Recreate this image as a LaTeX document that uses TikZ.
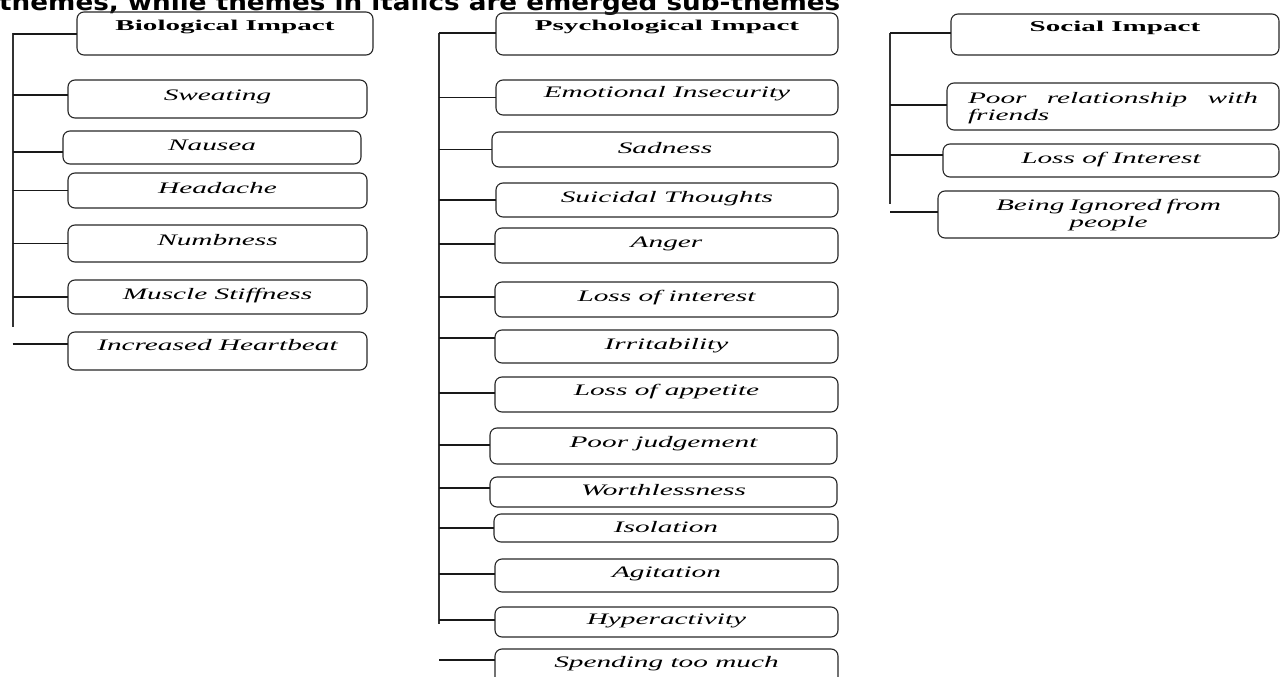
\documentclass[tikz,border=0pt]{standalone}
\usepackage{fontspec}
\newfontfamily\subf[FakeStretch=1.83]{Liberation Serif}
\newfontfamily\headf[FakeStretch=1.94]{Liberation Serif}
\newfontfamily\titlef[FakeStretch=1.14]{DejaVu Sans}
\tikzset{
  box/.style={draw=black!85, line width=1.1pt, rounded corners=7pt, inner sep=0pt, outer sep=0pt, anchor=north west},
  headtxt/.style={font=\headf\bfseries\fontsize{15}{17}\selectfont},
  subtxt/.style={font=\subf\itshape\fontsize{16}{17}\selectfont},
  conn/.style={draw=black!90, line width=1.45pt},
  trunk/.style={draw=black!80, line width=1.8pt}
}
\newcommand\bx[8]{%
  \pgfmathsetmacro\bxw{#4-#2}\pgfmathsetmacro\bxh{#6-#3}\pgfmathsetmacro\bxd{#5-#6}%
  \node[box,#7,minimum width=\bxw pt,text height=\bxh pt,text depth=\bxd pt] (#1) at (#2,#3) {#8};}
\newcommand\link[3][0]{%
  \path ([yshift=#1pt]#3.west) coordinate (#3-j);
  \draw[conn] (#2 |- #3-j) -- (#3-j);}
\begin{document}
\begin{tikzpicture}[x=1pt,y=-1pt]
\useasboundingbox (0,0) rectangle (1280,677);
\clip (0,0) rectangle (1280,677);
\node[anchor=base west, inner sep=0pt, font=\titlef\bfseries\fontsize{23}{26}\selectfont] (title) at (-1,10.5) {themes, while themes in italics are emerged sub-themes};

% Biological
\bx{bio}{77}{12}{373}{55}{31}{headtxt}{Biological Impact}
\bx{sweat}{68}{80}{367}{118}{100}{subtxt}{Sweating}
\bx{naus}{63}{131}{361}{164}{150}{subtxt}{Nausea}
\bx{headache}{68}{173}{367}{208}{193}{subtxt}{Headache}
\bx{numb}{68}{225}{367}{262}{245}{subtxt}{Numbness}
\bx{musc}{68}{280}{367}{314}{299}{subtxt}{Muscle Stiffness}
\bx{heart}{68}{332}{367}{370}{350}{subtxt}{Increased Heartbeat}
\coordinate (bioT) at (12.7,33);
\coordinate (bioB) at (12.7,327);
\draw[trunk] (bioT) -- (bioB);
\link[-0.5]{bioT}{bio}
\link[4]{bioT}{sweat}
\link[-4.5]{bioT}{naus}
\link{bioT}{headache}
\link{bioT}{numb}
\link{bioT}{musc}
\link[7]{bioT}{heart}

% Psychological
\bx{psy}{496}{13}{838}{55}{31}{headtxt}{Psychological Impact}
\bx{emo}{496}{80}{838}{115}{98}{subtxt}{Emotional Insecurity}
\bx{sad}{492}{132}{838}{167}{153}{subtxt}{Sadness}
\bx{sui}{496}{183}{838}{217}{202}{subtxt}{Suicidal Thoughts}
\bx{ang}{495}{228}{838}{263}{247}{subtxt}{Anger}
\bx{lint}{495}{282}{838}{317}{301}{subtxt}{Loss of interest}
\bx{irr}{495}{330}{838}{363}{349}{subtxt}{Irritability}
\bx{app}{495}{377}{838}{412}{395}{subtxt}{Loss of appetite}
\bx{judg}{490}{428}{837}{464}{447}{subtxt}{Poor judgement}
\bx{worth}{490}{477}{837}{507}{495}{subtxt}{Worthlessness}
\bx{iso}{494}{514}{838}{542}{532}{subtxt}{Isolation}
\bx{agit}{495}{559}{838}{592}{577}{subtxt}{Agitation}
\bx{hyp}{495}{607}{838}{637}{624}{subtxt}{Hyperactivity}
\bx{spend}{495}{649}{838}{692}{667}{subtxt}{Spending too much}
\coordinate (psyT) at (439,33);
\coordinate (psyB) at (439,624);
\draw[trunk] (psyT) -- (psyB);
\link[1]{psyT}{psy}
\link{psyT}{emo}
\link{psyT}{sad}
\link{psyT}{sui}
\link[1.5]{psyT}{ang}
\link[2.5]{psyT}{lint}
\link[8.5]{psyT}{irr}
\link[1.5]{psyT}{app}
\link[1]{psyT}{judg}
\link[4]{psyT}{worth}
\link{psyT}{iso}
\link[1.5]{psyT}{agit}
\link[2]{psyT}{hyp}
\link[10.5]{psyT}{spend}

% Social
\bx{soc}{951}{14}{1279}{55}{32}{headtxt}{Social Impact}
\bx{rel}{947}{83}{1279}{130}{103}{subtxt,text width=290pt,align=justify}{Poor relationship with friends}
\bx{lsi}{943}{144}{1279}{177}{163}{subtxt}{Loss of Interest}
\bx{ign}{938}{191}{1279}{238}{210}{subtxt,text width=300pt,align=center}{Being Ignored from\\people}
\coordinate (socT) at (890,33);
\coordinate (socB) at (890,204);
\draw[trunk] (socT) -- (socB);
\link[1.5]{socT}{soc}
\link[1.5]{socT}{rel}
\link[5.5]{socT}{lsi}
\link[2.5]{socT}{ign}
\end{tikzpicture}
\end{document}
